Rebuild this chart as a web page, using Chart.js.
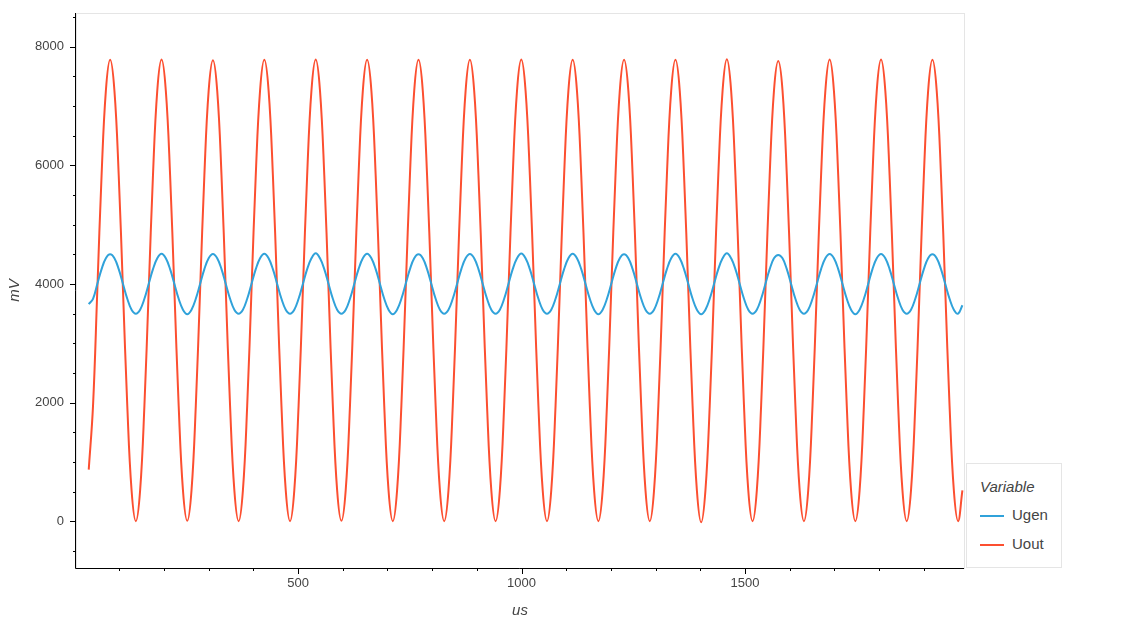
<!DOCTYPE html>
<html><head><meta charset="utf-8">
<script src="https://cdn.jsdelivr.net/npm/chart.js@4"></script>
<style>
body{margin:0;background:#fff;font-family:"Liberation Sans",Arial,sans-serif}
#wrap{position:relative;width:1125px;height:625px}
#leg{position:absolute;left:966px;top:463px;width:96px;height:105px;border:1px solid #e5e5e5;background:#fff;box-sizing:border-box;font-size:15px;color:#444}
#leg .t{position:absolute;left:13px;top:14px;font-style:italic}
#leg .r{position:absolute;left:13px;height:20px;line-height:20px}
#leg .r span{display:inline-block;width:24px;height:2px;vertical-align:middle;margin-right:8px}
</style></head><body>
<div id="wrap"><canvas id="c" width="1125" height="625"></canvas>
<div id="leg"><div class="t">Variable</div>
<div class="r" style="top:41px"><span style="background:#30a2da"></span>Ugen</div>
<div class="r" style="top:70px"><span style="background:#fc4f30"></span>Uout</div></div></div>
<script>
const seriesNames = ["Ugen", "Uout"];
const t0 = 31.5, dt = 9.583; // sample time grid (us)
const ugen = [
3660,3750,4000,4250,4433,4500,4433,4250,4000,3750,3567,3500,
3567,3750,4000,4250,4433,4510,4433,4250,4000,3750,3567,3490,
3567,3750,4000,4250,4433,4505,4433,4250,4000,3750,3567,3500,
3567,3750,4000,4250,4433,4510,4433,4250,4000,3750,3567,3500,
3567,3750,4000,4250,4433,4520,4433,4250,4000,3750,3567,3500,
3567,3750,4000,4250,4433,4510,4433,4250,4000,3750,3567,3490,
3567,3750,4000,4250,4433,4500,4433,4250,4000,3750,3567,3500,
3567,3750,4000,4250,4433,4505,4433,4250,4000,3750,3567,3500,
3567,3750,4000,4250,4433,4515,4433,4250,4000,3750,3567,3500,
3567,3750,4000,4250,4433,4510,4433,4250,4000,3750,3567,3490,
3567,3750,4000,4250,4433,4500,4433,4250,4000,3750,3567,3500,
3567,3750,4000,4250,4433,4510,4433,4250,4000,3750,3567,3490,
3567,3750,4000,4250,4433,4520,4433,4250,4000,3750,3567,3500,
3567,3750,4000,4250,4433,4490,4433,4250,4000,3750,3567,3500,
3567,3750,4000,4250,4433,4505,4433,4250,4000,3750,3567,3490,
3567,3750,4000,4250,4433,4505,4433,4250,4000,3750,3567,3500,
3567,3750,4000,4250,4433,4500,4433,4250,4000,3750,3567,3500,
3640];
const uout = [
870,1945,3890,5835,7259,7780,7259,5835,3890,1945,521,0,
521,1945,3890,5835,7259,7785,7259,5835,3890,1945,521,5,
521,1945,3890,5835,7259,7775,7259,5835,3890,1945,521,0,
521,1945,3890,5835,7259,7780,7259,5835,3890,1945,521,0,
521,1945,3890,5835,7259,7785,7259,5835,3890,1945,521,5,
521,1945,3890,5835,7259,7780,7259,5835,3890,1945,521,0,
521,1945,3890,5835,7259,7780,7259,5835,3890,1945,521,0,
521,1945,3890,5835,7259,7780,7259,5835,3890,1945,521,0,
521,1945,3890,5835,7259,7785,7259,5835,3890,1945,521,0,
521,1945,3890,5835,7259,7780,7259,5835,3890,1945,521,0,
521,1945,3890,5835,7259,7780,7259,5835,3890,1945,521,0,
521,1945,3890,5835,7259,7780,7259,5835,3890,1945,521,-20,
521,1945,3890,5835,7259,7790,7259,5835,3890,1945,521,0,
521,1945,3890,5835,7259,7760,7259,5835,3890,1945,521,0,
521,1945,3890,5835,7259,7785,7259,5835,3890,1945,521,0,
521,1945,3890,5835,7259,7785,7259,5835,3890,1945,521,0,
521,1945,3890,5835,7259,7780,7259,5835,3890,1945,521,0,
521];
const xMajor = [500, 1000, 1500];
const yMajor = [0, 2000, 4000, 6000, 8000];
const toPts = arr => arr.map((v,i)=>({x:t0+i*dt, y:v}));

const axisPlugin = {
  id:'axes',
  afterDraw(ch){
    const c=ch.ctx, a=ch.chartArea, xs=ch.scales.x, ys=ch.scales.y;
    c.save();
    c.strokeStyle='#e5e5e5'; c.lineWidth=1;
    c.strokeRect(a.left+0.5,a.top+0.5,a.right-a.left,a.bottom-a.top);
    c.strokeStyle='#000';
    c.beginPath(); c.moveTo(a.left-0.5,a.top); c.lineTo(a.left-0.5,a.bottom+0.5); c.lineTo(a.right,a.bottom+0.5); c.stroke();
    c.fillStyle='#444'; c.font='13px "Liberation Sans"';
    c.textAlign='right'; c.textBaseline='middle';
    for(let v=-500; v<=8500; v+=500){
      const p=Math.round(ys.getPixelForValue(v))+0.5; const maj=v%2000===0;
      c.beginPath(); c.moveTo(a.left,p); c.lineTo(a.left-(maj?6:3),p); c.stroke();
    }
    yMajor.forEach(v=>c.fillText(String(v),a.left-12,ys.getPixelForValue(v)));
    c.textAlign='center'; c.textBaseline='top';
    for(let v=100; v<=1900; v+=100){
      const p=Math.round(xs.getPixelForValue(v))+0.5; const maj=v%500===0;
      c.beginPath(); c.moveTo(p,a.bottom); c.lineTo(p,a.bottom+(maj?6:3)); c.stroke();
    }
    xMajor.forEach(v=>c.fillText(String(v),xs.getPixelForValue(v),a.bottom+9));
    c.font='italic 15px "Liberation Sans"';
    c.fillText('us',(a.left+a.right)/2,603);
    c.translate(15,(a.top+a.bottom)/2); c.rotate(-Math.PI/2);
    c.textBaseline='middle'; c.fillText('mV',0,0);
    c.restore();
  }
};

new Chart(document.getElementById('c'),{
  type:'line',
  data:{datasets:[
    {label:seriesNames[0],data:toPts(ugen),borderColor:'#30a2da',borderWidth:2,pointRadius:0,tension:0.4,fill:false},
    {label:seriesNames[1],data:toPts(uout),borderColor:'#fc4f30',borderWidth:2,pointRadius:0,tension:0.4,fill:false}
  ]},
  options:{
    responsive:false,animation:false,
    layout:{padding:{left:68,top:13,right:161,bottom:49}},
    plugins:{legend:{display:false},tooltip:{enabled:false}},
    scales:{
      x:{type:'linear',min:3,max:1990,ticks:{display:false},grid:{display:false},border:{display:false}},
      y:{min:-790,max:8570,ticks:{display:false},grid:{display:false},border:{display:false}}
    }
  },
  plugins:[axisPlugin]
});
</script></body></html>
